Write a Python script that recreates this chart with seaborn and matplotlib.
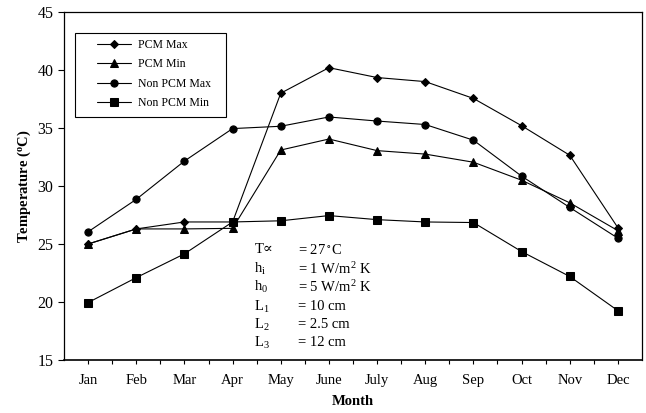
import matplotlib
matplotlib.use("Agg")
import matplotlib.pyplot as plt
import seaborn as sns
import pandas as pd
from matplotlib.patches import Rectangle

months = ["Jan", "Feb", "Mar", "Apr", "May", "June", "July", "Aug", "Sep", "Oct", "Nov", "Dec"]
pcm_max = [25.0, 26.3, 26.9, 26.9, 38.0, 40.2, 39.35, 39.0, 37.55, 35.2, 32.65, 26.4]
pcm_min = [25.0, 26.3, 26.3, 26.35, 33.1, 34.05, 33.05, 32.75, 32.05, 30.5, 28.55, 26.15]
non_pcm_max = [26.05, 28.85, 32.15, 34.95, 35.15, 35.95, 35.6, 35.3, 33.95, 30.85, 28.15, 25.5]
non_pcm_min = [19.95, 22.1, 24.15, 26.9, 27.0, 27.45, 27.1, 26.9, 26.85, 24.35, 22.2, 19.25]

series = {
    "PCM Max": pcm_max,
    "PCM Min": pcm_min,
    "Non PCM Max": non_pcm_max,
    "Non PCM Min": non_pcm_min,
}
rows = []
for name, vals in series.items():
    for i, v in enumerate(vals):
        rows.append({"idx": i, "Month": months[i], "Temperature": v, "Series": name})
df = pd.DataFrame(rows)

sns.set_theme(style="ticks")
plt.rcParams["font.family"] = ["Liberation Serif", "DejaVu Serif"]
plt.rcParams["mathtext.fontset"] = "stix"

fig = plt.figure(figsize=(6.46, 4.13), dpi=100)
ax = fig.add_axes([64 / 646, (413 - 360) / 413, (642 - 64) / 646, (360 - 12) / 413])

markers = {"PCM Max": "D", "PCM Min": "^", "Non PCM Max": "o", "Non PCM Min": "s"}
sizes_ms = {"PCM Max": 4.5, "PCM Min": 5.8, "Non PCM Max": 5.2, "Non PCM Min": 6.2}
order = list(series.keys())
for name in order:
    sub = df[df["Series"] == name]
    sns.lineplot(data=sub, x="idx", y="Temperature", ax=ax, color="black",
                 marker=markers[name], markersize=sizes_ms[name], markeredgecolor="black",
                 markerfacecolor="black", linewidth=0.8, label=name, sort=False)

ax.set_xlim(-0.5, 11.5)
ax.set_ylim(15, 45)
ax.set_xticks(range(len(months)))
ax.set_xticklabels(months)
ax.set_xticks([i + 0.5 for i in range(len(months) - 1)], minor=True)
ax.set_yticks([15, 20, 25, 30, 35, 40, 45])
ax.tick_params(axis="x", which="both", direction="out", length=3, width=0.8, pad=7,
               labelsize=10.5, colors="black")
ax.tick_params(axis="y", direction="out", length=4.5, width=0.8, pad=3,
               labelsize=11.5, colors="black")
for sp in ax.spines.values():
    sp.set_visible(True)
    sp.set_color("black")
    sp.set_linewidth(0.9)
ax.spines["bottom"].set_linewidth(1.2)

ax.set_xlabel("Month", fontsize=10.5, fontweight="bold", labelpad=6, color="black")
ax.set_ylabel("Temperature ($\\mathregular{^o}$C)", fontsize=10.5, fontweight="bold",
              labelpad=3, color="black")

leg = ax.legend(loc="upper left", bbox_to_anchor=(0.057, 0.922), frameon=False,
                fontsize=8.5, borderpad=0, borderaxespad=0, handlelength=2.9,
                handletextpad=0.6, labelspacing=0.62)
for t in leg.get_texts():
    t.set_color("black")
ax.add_patch(Rectangle((0.019, 0.698), 0.261, 0.242, transform=ax.transAxes,
                       fill=False, edgecolor="black", linewidth=0.8, zorder=5))

labels_left = ["T\u221d", "$\\mathregular{h_i}$", "$\\mathregular{h_0}$",
               "$\\mathregular{L_1}$", "$\\mathregular{L_2}$", "$\\mathregular{L_3}$"]
labels_right = ["= 27$\\mathregular{^\\circ}$C", "= 1 W/m$\\mathregular{^2}$ K",
                "= 5 W/m$\\mathregular{^2}$ K", "= 10 cm", "= 2.5 cm", "= 12 cm"]
ys = [24.5, 22.85, 21.3, 19.6, 18.05, 16.5]
for l, r, y in zip(labels_left, labels_right, ys):
    ax.text(3.45, y, l, fontsize=10.5, va="center", ha="left", color="black")
    ax.text(4.35, y, r, fontsize=10.5, va="center", ha="left", color="black")

fig.savefig("out.png", dpi=100)
